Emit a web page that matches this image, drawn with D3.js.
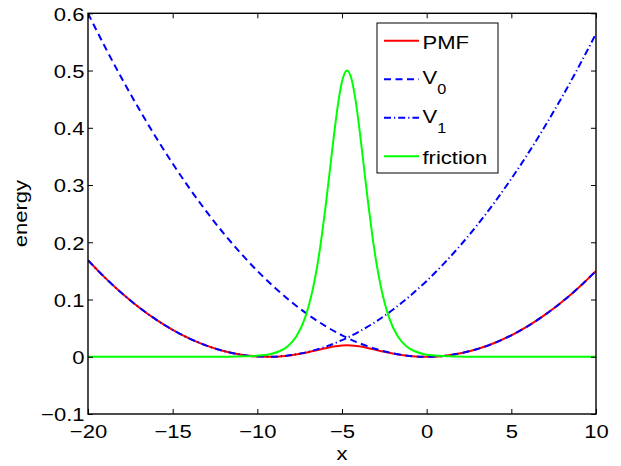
<!DOCTYPE html>
<html>
<head>
<meta charset="utf-8">
<script src="https://cdn.jsdelivr.net/npm/d3@7"></script>
<style>
  body { margin: 0; background: #fff; }
  text { font-family: "Liberation Sans", Arial, Helvetica, sans-serif; }
</style>
</head>
<body>
<div id="chart"></div>
<script>
// tick positions and labels
const xTicks = [-20, -15, -10, -5, 0, 5, 10];
const xTickLabels = ['\u221220', '\u221215', '\u221210', '\u22125', '0', '5', '10'];
const yTicks = [-0.1, 0, 0.1, 0.2, 0.3, 0.4, 0.5, 0.6];
const yTickLabels = ['\u22120.1', '0', '0.1', '0.2', '0.3', '0.4', '0.5', '0.6'];

// V0 and V1 sampled on whole x values
const xGrid = [-20, -19, -18, -17, -16, -15, -14, -13, -12, -11, -10, -9, -8, -7, -6, -5, -4, -3, -2, -1,
  0, 1, 2, 3, 4, 5, 6, 7, 8, 9, 10];
const v0Values = [0.6, 0.5415, 0.486, 0.4335, 0.384, 0.3375, 0.294, 0.2535, 0.216, 0.1815, 0.15, 0.1215,
  0.096, 0.0735, 0.054, 0.0375, 0.024, 0.0135, 0.006, 0.0015, 0, 0.0015, 0.006, 0.0135, 0.024, 0.0375,
  0.054, 0.0735, 0.096, 0.1215, 0.15];
const v1Values = [0.1685, 0.1382, 0.1109, 0.0866, 0.0653, 0.047, 0.0317, 0.0194, 0.0101, 0.0038, 0.0005,
  0.0002, 0.0029, 0.0086, 0.0173, 0.029, 0.0437, 0.0614, 0.0821, 0.1058, 0.1325, 0.1622, 0.1949, 0.2306,
  0.2693, 0.311, 0.3557, 0.4034, 0.4541, 0.5078, 0.5645];

// PMF, denser around the barrier
const pmfX = [-20, -19, -18, -17, -16, -15, -14, -13, -12, -11, -10, -9, -8, -7, -6.5, -6, -5.5, -5, -4.7,
  -4.5, -4, -3.5, -3, -2.5, -2, -1, 0, 1, 2, 3, 4, 5, 6, 7, 8, 9, 10];
const pmfValues = [0.1685, 0.1382, 0.1109, 0.0866, 0.0653, 0.047, 0.0317, 0.0194, 0.0101, 0.0038, 0.0005,
  0.0002, 0.0028, 0.008, 0.0113, 0.0147, 0.0178, 0.0196, 0.0199, 0.0198, 0.0182, 0.0154, 0.012, 0.0087,
  0.0057, 0.0015, 0, 0.0015, 0.006, 0.0135, 0.024, 0.0375, 0.054, 0.0735, 0.096, 0.1215, 0.15];

// friction peak
const frictionX = [-20, -14, -12, -11.7, -10.7, -9.7, -9.2, -8.7, -8.2, -7.7, -7.2, -6.7, -6.45, -6.2, -5.95,
  -5.7, -5.45, -5.2, -4.95, -4.7, -4.45, -4.2, -3.95, -3.7, -3.45, -3.2, -2.95, -2.7, -2.2, -1.7, -1.2, -0.7,
  -0.2, 0.3, 1.3, 2.3, 4, 10];
const frictionValues = [0, 0, 0, 0.0002, 0.0007, 0.0025, 0.0049, 0.0096, 0.0185, 0.0353, 0.0665, 0.1216,
  0.1609, 0.21, 0.2671, 0.3302, 0.3932, 0.4483, 0.4864, 0.5, 0.4864, 0.4483, 0.3932, 0.3302, 0.2671, 0.21,
  0.1609, 0.1216, 0.0665, 0.0353, 0.0185, 0.0096, 0.0049, 0.0025, 0.0007, 0.0002, 0, 0];

const legendLabels = [['PMF', ''], ['V', '0'], ['V', '1'], ['friction', '']];

class EnergyPlotD3 {
  constructor(elementId) {
    this.elementId = elementId;
    this.width = 621;
    this.height = 466;
    this.bounds = { left: 88, right: 596, top: 13.3, bottom: 414 };
    this.fontSize = 19;
    this.stretch = 1.16; // matlab helvetica renders a bit wide
    this.svg = null;
  }
  // initDiagram()
  // build svg, scales and draw everything
  initDiagram() {
    this.svg = d3.select('#' + this.elementId)
      .append('svg')
      .attr('width', this.width)
      .attr('height', this.height)
      .attr('style', 'background-color:white');
    this.xScale = d3.scaleLinear().domain([-20, 10]).range([this.bounds.left, this.bounds.right]);
    this.yScale = d3.scaleLinear().domain([-0.1, 0.6]).range([this.bounds.bottom, this.bounds.top]);
    this.drawSeries();
    this.drawAxes();
    this.drawLegend();
  }
  drawSeries() {
    const b = this.bounds;
    this.svg.append('defs').append('clipPath').attr('id', 'plotclip')
      .append('rect')
      .attr('x', b.left).attr('y', b.top - 1)
      .attr('width', b.right - b.left).attr('height', b.bottom - b.top + 1);
    const g = this.svg.append('g').attr('clip-path', 'url(#plotclip)');
    const line = d3.line()
      .x(d => this.xScale(d[0]))
      .y(d => this.yScale(d[1]))
      .curve(d3.curveMonotoneX);
    const series = [
      { xs: pmfX, ys: pmfValues, color: '#ff0000', dash: null },
      { xs: xGrid, ys: v0Values, color: '#0000ff', dash: '7,4.5' },
      { xs: xGrid, ys: v1Values, color: '#0000ff', dash: '7,3,1.2,3' },
      { xs: frictionX, ys: frictionValues, color: '#00ff00', dash: null },
    ];
    for (const s of series) {
      g.append('path')
        .datum(d3.zip(s.xs, s.ys))
        .attr('d', line)
        .attr('fill', 'none')
        .attr('stroke', s.color)
        .attr('stroke-width', 2)
        .attr('stroke-dasharray', s.dash);
    }
  }
  // drawAxes()
  // box with inward ticks on all four sides, like matlab
  drawAxes() {
    const b = this.bounds;
    const tickLen = 5;
    const axisFmt = (ticks, labels) => v => labels[ticks.indexOf(v)];
    const styleAxis = sel => {
      sel.select('.domain').remove();
      sel.selectAll('line').attr('stroke', '#000').attr('stroke-width', 1);
      sel.selectAll('text').attr('fill', '#000').attr('font-size', this.fontSize);
    };
    const bottom = this.svg.append('g')
      .attr('transform', 'translate(0,' + b.bottom + ')')
      .call(d3.axisBottom(this.xScale).tickValues(xTicks).tickFormat(axisFmt(xTicks, xTickLabels))
        .tickSizeInner(-tickLen).tickPadding(0));
    styleAxis(bottom);
    bottom.selectAll('text').attr('dy', null).attr('y', 24.5)
      .attr('transform', 'scale(' + this.stretch + ',1)');
    this.svg.append('g')
      .attr('transform', 'translate(0,' + b.top + ')')
      .call(d3.axisTop(this.xScale).tickValues(xTicks).tickFormat('').tickSizeInner(-tickLen))
      .call(styleAxis);
    const left = this.svg.append('g')
      .attr('transform', 'translate(' + b.left + ',0)')
      .call(d3.axisLeft(this.yScale).tickValues(yTicks).tickFormat(axisFmt(yTicks, yTickLabels))
        .tickSizeInner(-tickLen).tickPadding(0));
    styleAxis(left);
    left.selectAll('text').attr('x', -3.5 / this.stretch).attr('dy', '0.36em')
      .attr('transform', 'scale(' + this.stretch + ',1)');
    this.svg.append('g')
      .attr('transform', 'translate(' + b.right + ',0)')
      .call(d3.axisRight(this.yScale).tickValues(yTicks).tickFormat('').tickSizeInner(-tickLen))
      .call(styleAxis);
    this.svg.append('rect')
      .attr('x', b.left).attr('y', b.top)
      .attr('width', b.right - b.left).attr('height', b.bottom - b.top)
      .attr('fill', 'none').attr('stroke', '#000').attr('stroke-width', 1.4);
    // axis labels
    this.svg.append('text')
      .attr('transform', 'translate(' + (b.left + b.right) / 2 + ',460) scale(' + this.stretch + ',1)')
      .attr('text-anchor', 'middle').attr('font-size', this.fontSize).text('x');
    this.svg.append('text')
      .attr('transform', 'translate(27,' + (b.top + b.bottom) / 2 + ') rotate(-90) scale(' + this.stretch + ',1)')
      .attr('text-anchor', 'middle').attr('font-size', this.fontSize).text('energy');
  }
  drawLegend() {
    const box = { x: 377, y: 23, w: 121, h: 150 };
    const g = this.svg.append('g');
    g.append('rect')
      .attr('x', box.x).attr('y', box.y).attr('width', box.w).attr('height', box.h)
      .attr('fill', '#fff').attr('stroke', '#000').attr('stroke-width', 1);
    const styles = [['#ff0000', null], ['#0000ff', '7,4.5'], ['#0000ff', '7,3,1.2,3'], ['#00ff00', null]];
    let rowY = box.y + 17.7;
    legendLabels.forEach((lab, i) => {
      if (i > 0) rowY += legendLabels[i][1] || legendLabels[i - 1][1] ? 38.5 : 36;
      g.append('line')
        .attr('x1', box.x + 7).attr('x2', box.x + 42)
        .attr('y1', rowY).attr('y2', rowY)
        .attr('stroke', styles[i][0]).attr('stroke-width', 2)
        .attr('stroke-dasharray', styles[i][1]);
      const hasSub = lab[1] !== '';
      const t = g.append('text')
        .attr('transform', 'translate(' + (box.x + 45.5) + ',' + (rowY + (hasSub ? 5 : 8)) + ') scale(' + this.stretch + ',1)')
        .attr('font-size', this.fontSize);
      t.append('tspan').text(lab[0]);
      if (hasSub) {
        t.append('tspan').attr('font-size', 14).attr('dy', 10).text(lab[1]);
      }
    });
  }
}

const plot = new EnergyPlotD3('chart');
plot.initDiagram();
</script>
</body>
</html>
